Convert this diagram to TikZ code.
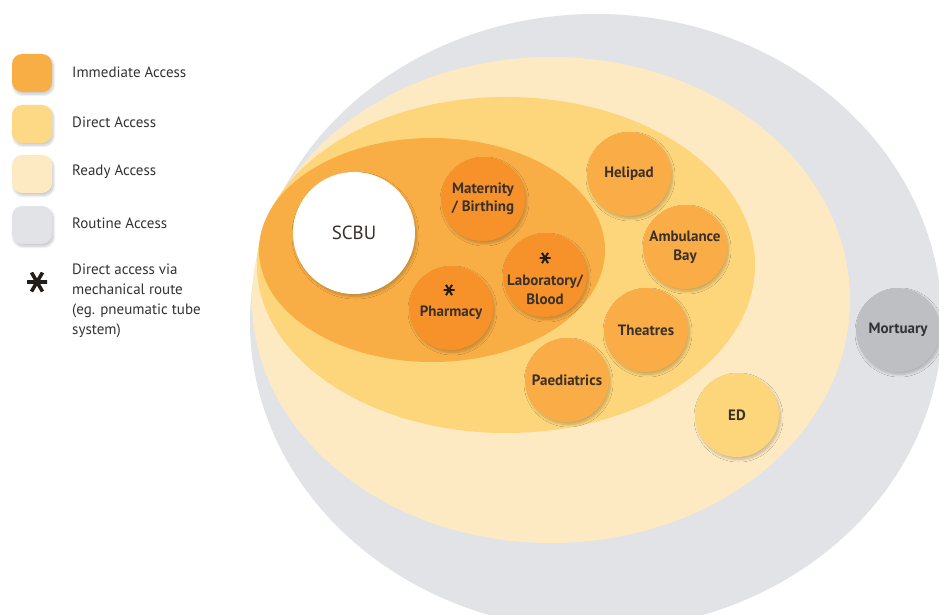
\documentclass[tikz,border=0pt]{standalone}
\usepackage{fontspec}
\setmainfont{PT Sans}
\usetikzlibrary{shapes.geometric,shadows.blur}

% access-level palette
\definecolor{routine}{RGB}{225,227,230}
\definecolor{ready}{RGB}{254,234,194}
\definecolor{direct}{RGB}{253,213,122}
\definecolor{immediate}{RGB}{249,174,69}
\definecolor{coreunit}{RGB}{247,146,42}
\definecolor{nearunit}{RGB}{250,172,70}
\definecolor{edunit}{RGB}{253,214,124}
\definecolor{morgue}{RGB}{190,191,195}
\definecolor{labeltext}{RGB}{58,48,42}
\definecolor{legendtext}{RGB}{50,50,52}

\tikzset{
  zone/.style={ellipse, draw=none, inner sep=0pt},
  softshadow/.style={blur shadow={shadow xshift=1.5pt, shadow yshift=-2.5pt,
      shadow blur radius=2.5pt, shadow blur steps=10, shadow opacity=22}},
  unitlabel/.style={inner sep=0pt, align=center,
      font=\bfseries\fontsize{15}{18.5}\selectfont, text=labeltext},
  unit/.style={circle, draw=none, inner sep=0pt, minimum size=84pt, unitlabel, softshadow},
  legendbox/.style={rectangle, rounded corners=10pt, draw=none, inner sep=0pt,
      minimum width=40pt, minimum height=38pt, softshadow},
  legendlabel/.style={anchor=west, inner sep=0pt, text=legendtext,
      font=\fontsize{15}{18}\selectfont},
  % six-spoke asterisk: a horizontal bar crossed by two steep diagonals
  asteriskmark/.style={inner sep=0pt, minimum size=2*#1, draw=none,
      path picture={
        \draw[line width=0.36*#1, line cap=butt, labeltext!60!black]
          ([xshift=-#1]path picture bounding box.center) -- ([xshift=#1]path picture bounding box.center)
          ([shift={(-0.55*#1,0.95*#1)}]path picture bounding box.center) -- ([shift={(0.55*#1,-0.95*#1)}]path picture bounding box.center)
          ([shift={(0.55*#1,0.95*#1)}]path picture bounding box.center) -- ([shift={(-0.55*#1,-0.95*#1)}]path picture bounding box.center);
      }},
}

\begin{document}
\begin{tikzpicture}[x=1pt, y=-1pt]
  \useasboundingbox (0,0) rectangle (939,615);
  \clip (0,0) rectangle (939,615);

  % nested access zones
  \node[zone, fill=routine, minimum width=692pt, minimum height=616pt] (routineZone) at (596,322) {};
  \node[zone, fill=ready, minimum width=598pt, minimum height=486pt] (readyZone) at (551,300) {};
  \node[zone, fill=direct, minimum width=498pt, minimum height=336pt] (directZone) at (506,265) {};
  \node[zone, fill=immediate, minimum width=346pt, minimum height=224pt] (immediateZone) at (432,250) {};

  % central unit
  \node[unit, fill=white, minimum size=122pt, font=\fontsize{19}{21}\selectfont] (scbu) at (354,233) {SCBU};

  % immediate access
  \node[unit, fill=coreunit] (maternity) at (483,199) {Maternity\\/ Birthing};
  \node[unit, fill=coreunit] (lab) at (545,275) {};
  \node[unit, fill=coreunit] (pharmacy) at (451,308) {};
  \node[asteriskmark=5.5pt] (labAst) at (545,258) {};
  \node[unitlabel] (labText) at (545,290) {Laboratory/\\Blood};
  \node[asteriskmark=5.5pt] (pharmacyAst) at (449,290) {};
  \node[unitlabel] (pharmacyText) at (451,313) {Pharmacy};

  % direct access
  \node[unit, fill=nearunit] (helipad) at (629,174) {Helipad};
  \node[unit, fill=nearunit] (ambulance) at (685,247) {Ambulance\\Bay};
  \node[unit, fill=nearunit] (theatres) at (646,330) {Theatres};
  \node[unit, fill=nearunit] (paeds) at (567,380) {Paediatrics};

  % ready access
  \node[unit, fill=edunit] (ed) at (737,415) {ED};

  % routine access
  \node[unit, fill=morgue, text=legendtext] (mortuary) at (898,330) {Mortuary};

  % legend
  \node[legendbox, fill=immediate] (keyImm) at (32,73) {};
  \node[legendbox, fill=direct!92!white] (keyDir) at (32,124) {};
  \node[legendbox, fill=ready] (keyRdy) at (32,174) {};
  \node[legendbox, fill=routine] (keyRte) at (32,225) {};
  \node[legendlabel] (txtImm) at (72,72) {Immediate Access};
  \node[legendlabel] (txtDir) at (72,122) {Direct Access};
  \node[legendlabel] (txtRdy) at (72,172) {Ready Access};
  \node[legendlabel] (txtRte) at (72,223) {Routine Access};
  \node[asteriskmark=10pt] (keyAst) at (37,282) {};
  \node[legendlabel, anchor=north west, align=left, font=\fontsize{15}{19.8}\selectfont] (txtAst) at (72,264)
    {Direct access via\\mechanical route\\(eg. pneumatic tube\\system)};
\end{tikzpicture}
\end{document}
